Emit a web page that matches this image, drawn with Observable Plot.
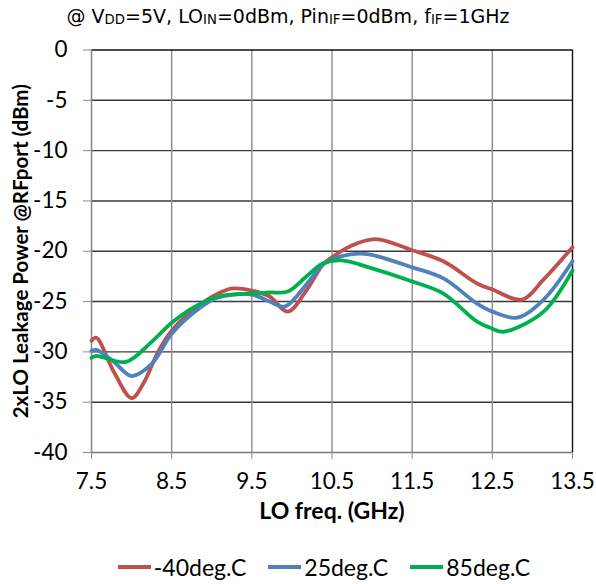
<!DOCTYPE html>
<html>
<head>
<meta charset="utf-8">
<script src="https://cdn.jsdelivr.net/npm/d3@7"></script>
<script src="https://cdn.jsdelivr.net/npm/@observablehq/plot@0.6"></script>
<style>
  body { margin: 0; background: #fff; width: 596px; height: 584px; overflow: hidden; }
  #title { height: 30px; font-family: "DejaVu Sans"; font-size: 19px; line-height: 32px; text-align: center; padding-right: 20px; color: #000; white-space: nowrap; }
  #title .sub { font-size: 0.7em; vertical-align: -1px; }
  #chart { height: 520px; }
  #chart svg { overflow: visible; }
  #legend { height: 34px; display: flex; justify-content: center; align-items: center; padding-left: 52px; gap: 22px; font-family: Lato; font-size: 23px; color: #000; }
  .item { display: flex; align-items: center; }
  .swatch { width: 33px; height: 4px; margin-right: 3px; }
</style>
</head>
<body>
<div id="title">@ V<span class="sub">DD</span>=5V, LO<span class="sub">IN</span>=0dBm, Pin<span class="sub">IF</span>=0dBm, f<span class="sub">IF</span>=1GHz</div>
<div id="chart"></div>
<div id="legend"></div>
<script>
const seriesNames = ["-40deg.C", "25deg.C", "85deg.C"];
const seriesColors = ["#C0504D", "#4F81BD", "#00B050"];

const freqRed = [7.5, 7.56, 7.78, 8.0, 8.15, 8.33, 8.5, 8.79, 9.08, 9.26, 9.5, 9.72, 9.95, 10.18, 10.39, 10.5, 10.73, 11.04, 11.5, 11.89, 12.31, 12.5, 12.87, 13.14, 13.5];
const powRed  = [-28.9, -28.6, -32.0, -34.6, -33.1, -30.0, -27.9, -25.7, -24.2, -23.7, -23.9, -24.5, -26.0, -23.9, -21.3, -20.6, -19.5, -18.8, -19.9, -21.0, -23.2, -23.8, -24.8, -22.8, -19.6];

const freqBlue = [7.5, 7.56, 7.78, 8.0, 8.25, 8.5, 8.79, 9.08, 9.5, 9.72, 9.91, 10.18, 10.39, 10.5, 10.73, 10.96, 11.5, 11.89, 12.31, 12.5, 12.81, 13.14, 13.5];
const powBlue  = [-29.9, -29.8, -31.0, -32.4, -31.2, -28.2, -26.0, -24.6, -24.3, -25.0, -25.5, -23.3, -21.3, -20.8, -20.3, -20.3, -21.6, -22.7, -25.2, -26.0, -26.6, -24.8, -21.0];

const freqGreen = [7.5, 7.56, 7.93, 8.25, 8.5, 8.79, 9.08, 9.5, 9.72, 9.95, 10.18, 10.39, 10.62, 10.96, 11.5, 11.89, 12.31, 12.5, 12.64, 13.14, 13.5];
const powGreen  = [-30.6, -30.4, -31.0, -29.0, -27.1, -25.5, -24.5, -24.2, -24.1, -24.0, -22.5, -21.2, -20.9, -21.6, -23.0, -24.2, -27.0, -27.7, -28.0, -26.0, -21.9];

const xTicks = [7.5, 8.5, 9.5, 10.5, 11.5, 12.5, 13.5];
const yTicks = [0, -5, -10, -15, -20, -25, -30, -35, -40];
const xLabel = "LO freq. (GHz)";
const yLabel = "2xLO Leakage Power @RFport (dBm)";

const rows = [];
[[freqRed, powRed], [freqBlue, powBlue], [freqGreen, powGreen]].forEach(([fs, ps], i) => {
  fs.forEach((f, j) => rows.push({series: seriesNames[i], f, p: ps[j]}));
});

const chart = Plot.plot({
  width: 596,
  height: 520,
  marginTop: 19.5,
  marginLeft: 91,
  marginRight: 24,
  marginBottom: 98,
  style: {fontFamily: "Lato", fontSize: "22.5px", color: "#000", background: "#fff", overflow: "visible"},
  x: {domain: [7.5, 13.5]},
  y: {domain: [-40, 0]},
  color: {domain: seriesNames, range: seriesColors},
  marks: [
    Plot.ruleY(yTicks.filter(d => d > -40 && d < 0), {stroke: "#3a3a3a", strokeWidth: 1.4, strokeOpacity: 1}),
    Plot.ruleX(xTicks.filter(d => d > 7.5 && d < 13.5), {stroke: "#8c8c8c", strokeWidth: 1.4, strokeOpacity: 1}),
    Plot.ruleY([0], {stroke: "#111", strokeWidth: 1.4}),
    Plot.ruleX([13.5], {stroke: "#111", strokeWidth: 1.4}),
    Plot.ruleY([-40], {stroke: "#7a7a7a", strokeWidth: 1.6}),
    Plot.ruleX([7.5], {stroke: "#8a8a8a", strokeWidth: 1.6}),
    Plot.axisY({ticks: yTicks, tickSize: 8, tickPadding: 16, stroke: "#8a8a8a", label: null, tickFormat: d => String(d)}),
    Plot.axisX({ticks: xTicks, tickSize: 7, tickPadding: 14, stroke: "#8a8a8a", label: null, tickFormat: d => d.toFixed(1)}),
    Plot.line(rows, {x: "f", y: "p", z: "series", stroke: "series", strokeWidth: 3.8, curve: "catmull-rom"}),
    Plot.text([xLabel], {frameAnchor: "bottom", dy: 66, fontWeight: "bold", fontSize: 23, fill: "#000"}),
    Plot.text([yLabel], {frameAnchor: "left", textAnchor: "middle", dx: -70, rotate: -90, fontWeight: "bold", fontSize: 20.5, fill: "#000"})
  ]
});
document.getElementById("chart").appendChild(chart);

const legend = document.getElementById("legend");
seriesNames.forEach((name, i) => {
  const item = document.createElement("div");
  item.className = "item";
  const sw = document.createElement("div");
  sw.className = "swatch";
  sw.style.background = seriesColors[i];
  const label = document.createElement("span");
  label.textContent = name;
  item.appendChild(sw);
  item.appendChild(label);
  legend.appendChild(item);
});
</script>
</body>
</html>
